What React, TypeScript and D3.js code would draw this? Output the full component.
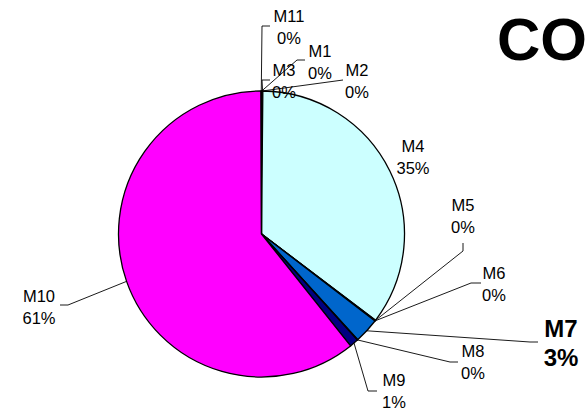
import React from "react";
import * as d3 from "d3";

// Slice names, raw counts and fill colours (clockwise from 12 o'clock)
const names = ["M1", "M2", "M3", "M4", "M5", "M6", "M7", "M8", "M9", "M10", "M11"];
const counts = [1, 1, 1, 705, 1, 1, 57, 1, 20, 1216, 1];
const colors = [
  "#9999FF", "#993366", "#FFFFCC", "#CCFFFF", "#660066", "#FF8080",
  "#0066CC", "#CCCCFF", "#000080", "#FF00FF", "#FFFF00",
];
const titleText = "CO";

// Label placement: text centre x, first baseline y, leader path after the slice edge
type LabelLayout = { x: number; y: number; path: [number, number][]; bold?: boolean };
const labelLayout: LabelLayout[] = [
  { x: 320, y: 57, path: [[297, 60], [305, 60]] },
  { x: 357, y: 76, path: [[343, 80]] },
  { x: 284, y: 76, path: [[262, 80], [270, 80]] },
  { x: 413, y: 152, path: [] },
  { x: 463, y: 211, path: [[463, 251], [463, 243]] },
  { x: 494, y: 279, path: [[471, 283], [481, 283]] },
  { x: 561, y: 337, path: [[530, 342], [538, 342]], bold: true },
  { x: 473, y: 357, path: [[450, 362], [458, 362]] },
  { x: 394, y: 386, path: [[368, 391], [377, 391]] },
  { x: 39, y: 302, path: [[68, 305], [60, 305]] },
  { x: 289, y: 22, path: [[262, 26], [270, 26]] },
];

const W = 585;
const H = 411;
const cx = 261.5;
const cy = 234;
const R = 143;

export default function App() {
  const data = names.map((name, i) => ({ name, value: counts[i], color: colors[i] }));
  const total = d3.sum(counts);
  const pie = d3
    .pie<{ name: string; value: number; color: string }>()
    .sort(null)
    .value((d) => d.value);
  const arcs = pie(data);
  const arc = d3.arc<d3.PieArcDatum<any>>().innerRadius(0).outerRadius(R);
  const line = d3.line();

  return (
    <svg
      width={W}
      height={H}
      style={{ position: "absolute", left: 0, top: 0, display: "block", background: "#fff" }}
      fontFamily="'Liberation Sans', Arial, sans-serif"
    >
      <g transform={`translate(${cx},${cy})`}>
        {arcs.map((a, i) => (
          <path key={i} d={arc(a) || ""} fill={a.data.color} stroke="#000" strokeWidth={1.3} strokeLinejoin="round" />
        ))}
      </g>
      {arcs.map((a, i) => {
        const L = labelLayout[i];
        const mid = (a.startAngle + a.endAngle) / 2;
        const sx = cx + R * Math.sin(mid);
        const sy = cy - R * Math.cos(mid);
        const pct = Math.round((a.data.value / total) * 100);
        const fs = L.bold ? 24 : 16.5;
        const lh = L.bold ? 29 : 22;
        return (
          <g key={`l${i}`}>
            {L.path.length > 0 && (
              <path
                d={line([[sx, sy], ...L.path]) || ""}
                fill="none"
                stroke="#000"
                strokeWidth={0.9}
              />
            )}
            <text
              x={L.x}
              y={L.y}
              textAnchor="middle"
              fontSize={fs}
              fontWeight={L.bold ? "bold" : "normal"}
              fill="#000"
            >
              <tspan x={L.x}>{a.data.name}</tspan>
              <tspan x={L.x} dy={lh}>{`${pct}%`}</tspan>
            </text>
          </g>
        );
      })}
      <text x={497} y={60} fontSize={60} fontWeight="bold" fill="#000">
        {titleText}
      </text>
    </svg>
  );
}
